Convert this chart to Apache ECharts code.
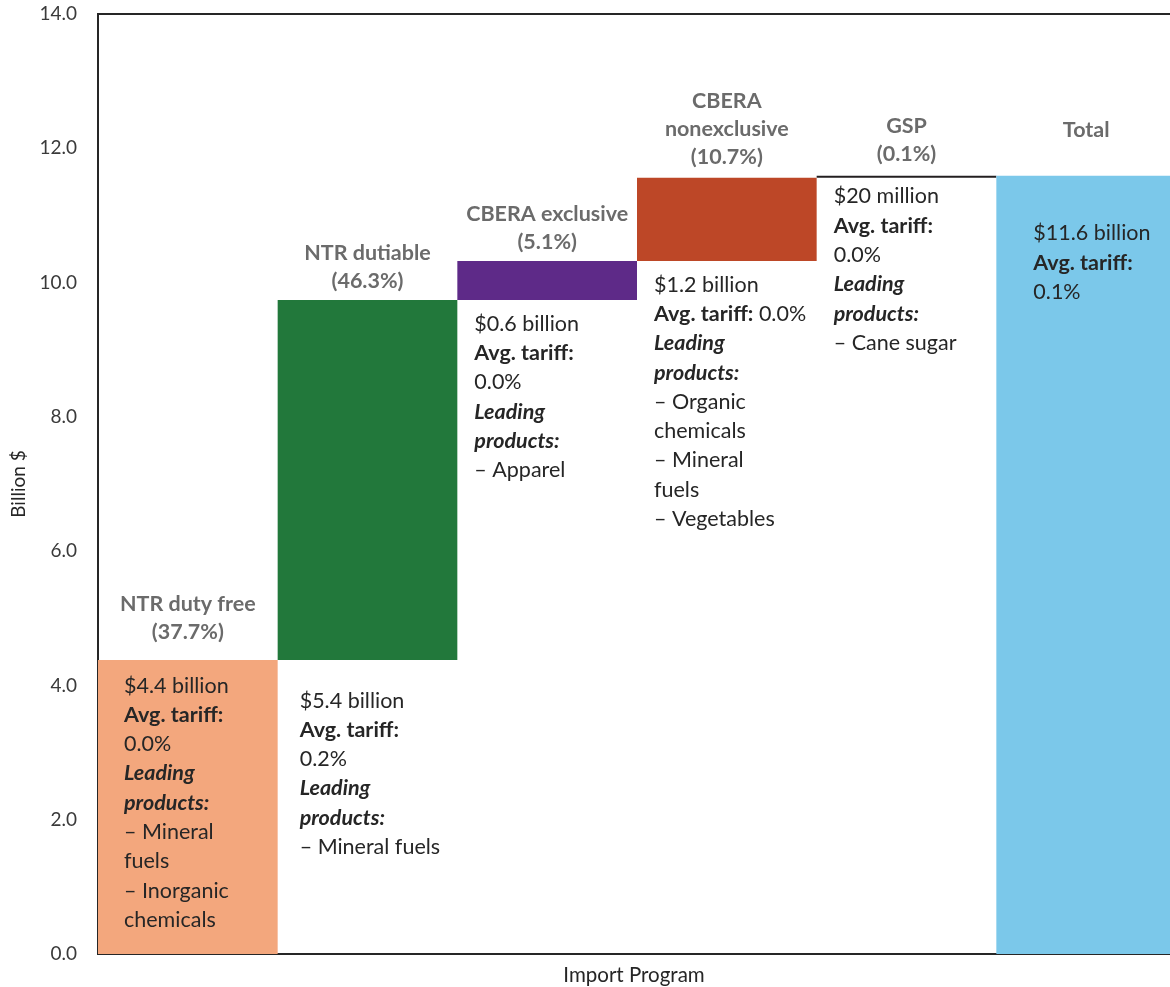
<!DOCTYPE html>
<html>
<head>
<meta charset="utf-8">
<script src="https://cdn.jsdelivr.net/npm/echarts@6/dist/echarts.min.js"></script>
<style>html,body{margin:0;padding:0;background:#fff}#c{width:1170px;height:987px}</style>
</head>
<body>
<div id="c"></div>
<script>
// Data (billion $)
const categories = ['NTR duty free', 'NTR dutiable', 'CBERA exclusive', 'CBERA nonexclusive', 'GSP', 'Total'];
const baseValues = [0, 4.38, 9.74, 10.32, 11.56, 0];
const stepValues = [4.38, 5.36, 0.58, 1.24, 0.03, 11.59];
const nameLabels = [
  'NTR duty free\n(37.7%)',
  'NTR dutiable\n(46.3%)',
  'CBERA exclusive\n(5.1%)',
  'CBERA\nnonexclusive\n(10.7%)',
  'GSP\n(0.1%)',
  'Total'
];
const descLabels = [
  '$4.4 billion\n{b|Avg. tariff:}\n0.0%\n{bi|Leading}\n{bi|products:}\n– Mineral\nfuels\n– Inorganic\nchemicals',
  '$5.4 billion\n{b|Avg. tariff:}\n0.2%\n{bi|Leading}\n{bi|products:}\n– Mineral fuels',
  '$0.6 billion\n{b|Avg. tariff:}\n0.0%\n{bi|Leading}\n{bi|products:}\n– Apparel',
  '$1.2 billion\n{b|Avg. tariff:} 0.0%\n{bi|Leading}\n{bi|products:}\n– Organic\nchemicals\n– Mineral\nfuels\n– Vegetables',
  '$20 million\n{b|Avg. tariff:}\n0.0%\n{bi|Leading}\n{bi|products:}\n– Cane sugar',
  '$11.6 billion\n{b|Avg. tariff:}\n0.1%'
];
const yTicks = [0, 2, 4, 6, 8, 10, 12, 14];

// styles
const colors = ['#F3A77D', '#22783B', '#5E2A88', '#BD4727', '#231F20', '#7BC8EA'];
const descInside = [true, false, false, false, false, true];
const descPos = [[26, 11], [22, 26], [17, 9], [17, 9], [17, 4], [37, 43]];
const nameDist = [14, 5, 5, 7, 8, 32];
const FONT = 'Lato';
const DFS = 21.5;

const anchorValues = baseValues.map((b, i) => descInside[i] ? b + stepValues[i] : b);

const chart = echarts.init(document.getElementById('c'));
chart.setOption({
  animation: false,
  grid: { left: 98, right: -6, top: 14, bottom: 33, outerBoundsMode: 'none', containLabel: false,
          show: true, borderColor: '#262626', borderWidth: 2, backgroundColor: 'transparent' },
  xAxis: {
    type: 'category',
    data: categories,
    name: 'Import Program',
    nameLocation: 'start',
    nameGap: 0,
    nameTextStyle: { fontFamily: FONT, fontSize: 20.5, color: '#262626', align: 'center', verticalAlign: 'top', padding: [10, 0, 0, 0] },
    axisLine: { show: true, lineStyle: { color: '#262626', width: 2 } },
    axisTick: { show: false },
    axisLabel: { show: false },
    splitLine: { show: false }
  },
  yAxis: {
    type: 'value',
    min: yTicks[0],
    max: yTicks[yTicks.length - 1],
    interval: 2,
    name: 'Billion $',
    nameLocation: 'middle',
    nameGap: 70,
    nameRotate: 90,
    nameTextStyle: { fontFamily: FONT, fontSize: 19, color: '#262626' },
    axisLine: { show: true, lineStyle: { color: '#262626', width: 2 } },
    axisTick: { show: false },
    splitLine: { show: false },
    axisLabel: {
      margin: 21,
      fontFamily: FONT, fontSize: 19, color: '#3a3a3a',
      formatter: v => v.toFixed(1)
    }
  },
  series: [
    {
      name: 'base', type: 'bar', stack: 'w', silent: true,
      barCategoryGap: 0,
      itemStyle: { color: 'transparent' },
      data: baseValues
    },
    {
      name: 'step', type: 'bar', stack: 'w',
      barCategoryGap: 0,
      data: stepValues.map((v, i) => ({
        value: v,
        itemStyle: { color: colors[i] },
        label: {
          show: true, position: 'top', distance: nameDist[i],
          formatter: nameLabels[i],
          fontFamily: FONT, fontSize: 21.5, fontWeight: 'bold', color: '#6b6b6b',
          lineHeight: 28, align: 'center'
        }
      }))
    },
    {
      name: 'desc', type: 'bar', silent: true,
      barGap: '-100%', barCategoryGap: 0,
      itemStyle: { color: 'transparent' },
      z: 5,
      data: anchorValues.map((v, i) => ({
        value: v,
        label: {
          show: true,
          position: descPos[i],
          formatter: descLabels[i],
          align: 'left', verticalAlign: 'top',
          fontFamily: FONT, fontSize: DFS, color: '#262626', lineHeight: 29.3,
          rich: {
            b: { fontFamily: FONT, fontSize: DFS, fontWeight: 'bold', color: '#262626', lineHeight: 29.3 },
            bi: { fontFamily: FONT, fontSize: DFS, fontWeight: 'bold', fontStyle: 'italic', color: '#262626', lineHeight: 29.3 }
          }
        }
      }))
    }
  ],
  graphic: []
});
// Centre the x-axis name under the visible plot area (98..1170)
chart.setOption({ xAxis: { nameLocation: 'middle', nameGap: 11, nameTextStyle: { padding: [0, 6, 0, 0], verticalAlign: 'top' } } });
</script>
</body>
</html>
